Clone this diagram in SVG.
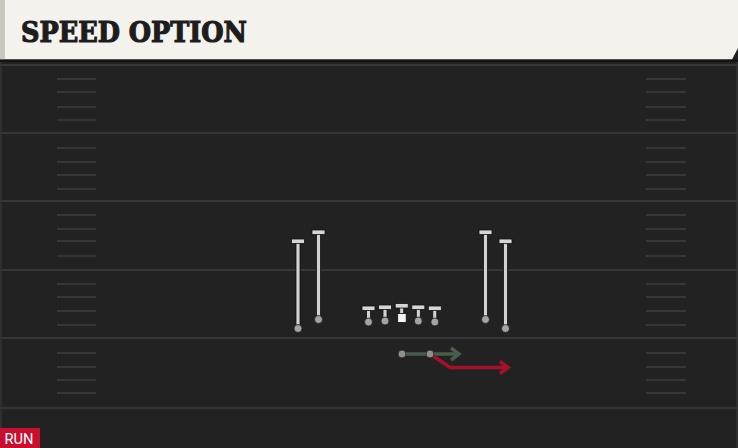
<svg xmlns="http://www.w3.org/2000/svg" width="738" height="448" viewBox="0 0 738 448">
<defs>
<style>
.yard{stroke:#363636;stroke-width:2}
.hash{stroke:#363636;stroke-width:2}
.bar{fill:#d6d6d6;stroke:#111;stroke-width:0.8}
.stem{fill:#d2d2d2;stroke:#111;stroke-width:0.8}
.dot{fill:#a4a4a4;stroke:#1a1a1a;stroke-width:0.8}
.route{fill:none;stroke-width:3.5;stroke-linejoin:miter}
</style>
</defs>
<rect x="0" y="0" width="738" height="448" fill="#222222"/>
<rect x="0" y="60" width="2" height="388" fill="#2f2f2f"/>
<rect x="736" y="60" width="2" height="388" fill="#2f2f2f"/>
<g id="field">
<line class="yard" x1="0" y1="65" x2="738" y2="65"/>
<line class="yard" x1="0" y1="133" x2="738" y2="133"/>
<line class="yard" x1="0" y1="201" x2="738" y2="201"/>
<line class="yard" x1="0" y1="270" x2="738" y2="270"/>
<line class="yard" x1="0" y1="338" x2="738" y2="338"/>
<line class="yard" x1="0" y1="408" x2="738" y2="408"/>
<g id="hashes-left">
<line class="hash" x1="57" y1="79" x2="96" y2="79"/>
<line class="hash" x1="57" y1="92" x2="96" y2="92"/>
<line class="hash" x1="57" y1="107" x2="96" y2="107"/>
<line class="hash" x1="57" y1="120" x2="96" y2="120"/>
<line class="hash" x1="57" y1="148" x2="96" y2="148"/>
<line class="hash" x1="57" y1="162" x2="96" y2="162"/>
<line class="hash" x1="57" y1="175" x2="96" y2="175"/>
<line class="hash" x1="57" y1="189" x2="96" y2="189"/>
<line class="hash" x1="57" y1="215" x2="96" y2="215"/>
<line class="hash" x1="57" y1="229" x2="96" y2="229"/>
<line class="hash" x1="57" y1="241" x2="96" y2="241"/>
<line class="hash" x1="57" y1="256" x2="96" y2="256"/>
<line class="hash" x1="57" y1="284" x2="96" y2="284"/>
<line class="hash" x1="57" y1="297" x2="96" y2="297"/>
<line class="hash" x1="57" y1="311" x2="96" y2="311"/>
<line class="hash" x1="57" y1="325" x2="96" y2="325"/>
<line class="hash" x1="57" y1="353" x2="96" y2="353"/>
<line class="hash" x1="57" y1="367" x2="96" y2="367"/>
<line class="hash" x1="57" y1="380" x2="96" y2="380"/>
<line class="hash" x1="57" y1="393" x2="96" y2="393"/>
</g>
<g id="hashes-right">
<line class="hash" x1="646" y1="79" x2="686" y2="79"/>
<line class="hash" x1="646" y1="92" x2="686" y2="92"/>
<line class="hash" x1="646" y1="107" x2="686" y2="107"/>
<line class="hash" x1="646" y1="120" x2="686" y2="120"/>
<line class="hash" x1="646" y1="148" x2="686" y2="148"/>
<line class="hash" x1="646" y1="162" x2="686" y2="162"/>
<line class="hash" x1="646" y1="175" x2="686" y2="175"/>
<line class="hash" x1="646" y1="189" x2="686" y2="189"/>
<line class="hash" x1="646" y1="215" x2="686" y2="215"/>
<line class="hash" x1="646" y1="229" x2="686" y2="229"/>
<line class="hash" x1="646" y1="241" x2="686" y2="241"/>
<line class="hash" x1="646" y1="256" x2="686" y2="256"/>
<line class="hash" x1="646" y1="284" x2="686" y2="284"/>
<line class="hash" x1="646" y1="297" x2="686" y2="297"/>
<line class="hash" x1="646" y1="311" x2="686" y2="311"/>
<line class="hash" x1="646" y1="325" x2="686" y2="325"/>
<line class="hash" x1="646" y1="353" x2="686" y2="353"/>
<line class="hash" x1="646" y1="367" x2="686" y2="367"/>
<line class="hash" x1="646" y1="380" x2="686" y2="380"/>
<line class="hash" x1="646" y1="393" x2="686" y2="393"/>
</g>
</g>
<g id="header">
<polygon points="0,0 738,0 738,48 732,59.5 0,59.5" fill="#f4f2ec"/>
<rect x="0" y="0" width="5" height="59.5" fill="#c9c7c0"/>
<rect x="0" y="59.5" width="738" height="2.5" fill="#151515"/>
<text x="21" y="42.3" font-family="'DejaVu Serif', serif" font-weight="bold" font-size="28.5" fill="#1d1d1d" stroke="#1d1d1d" stroke-width="1.2" textLength="226" lengthAdjust="spacingAndGlyphs">SPEED OPTION</text>
</g>
<g id="connectors">
<polyline class="route" stroke="#4a5d4a" points="402,354 459,354"/>
<polyline class="route" stroke="#4a5d4a" points="451,348 459,354 451,360"/>
<polyline class="route" stroke="#a5112b" points="430,354 450,367.5 508,367.5"/>
<polyline class="route" stroke="#a5112b" points="500,361.5 508,367.5 500,373.5"/>
</g>
<g id="wr1">
<rect class="stem" x="296" y="242" width="4" height="86"/>
<rect class="bar" x="291.5" y="239" width="13" height="4.5"/>
<circle class="dot" cx="298" cy="328.5" r="4"/>
</g>
<g id="wr2">
<rect class="stem" x="316.5" y="233" width="4" height="86"/>
<rect class="bar" x="312" y="230" width="13" height="4.5"/>
<circle class="dot" cx="318.5" cy="319.5" r="4"/>
</g>
<g id="wr3">
<rect class="stem" x="483.5" y="233" width="4" height="86"/>
<rect class="bar" x="479" y="230" width="13" height="4.5"/>
<circle class="dot" cx="485.5" cy="319.5" r="4"/>
</g>
<g id="wr4">
<rect class="stem" x="503.5" y="242" width="4" height="86"/>
<rect class="bar" x="499" y="239" width="13" height="4.5"/>
<circle class="dot" cx="505.5" cy="328.5" r="4"/>
</g>
<g id="lt">
<rect class="stem" x="366.5" y="309" width="4" height="12"/>
<rect class="bar" x="362" y="306" width="13" height="4.5"/>
<circle class="dot" cx="368.5" cy="322" r="4"/>
</g>
<g id="lg">
<rect class="stem" x="383" y="308" width="4" height="12"/>
<rect class="bar" x="378.5" y="305" width="13" height="4.5"/>
<circle class="dot" cx="385" cy="321" r="4"/>
</g>
<g id="c">
<rect class="stem" x="399.7" y="307" width="4" height="7"/>
<rect class="bar" x="395.2" y="303.5" width="13" height="4.5"/>
<rect x="397.7" y="313.5" width="8.5" height="9" fill="#f4f4f4" stroke="#111" stroke-width="0.8"/>
</g>
<g id="rg">
<rect class="stem" x="416.3" y="308" width="4" height="12"/>
<rect class="bar" x="411.8" y="305" width="13" height="4.5"/>
<circle class="dot" cx="418.3" cy="321" r="4"/>
</g>
<g id="rt">
<rect class="stem" x="432.8" y="309" width="4" height="12"/>
<rect class="bar" x="428.3" y="306" width="13" height="4.5"/>
<circle class="dot" cx="434.8" cy="322" r="4"/>
</g>
<g id="qb">
<circle cx="402" cy="354" r="4" fill="#8e8e8e" stroke="#1a1a1a" stroke-width="0.8"/>
</g>
<g id="rb">
<circle cx="430" cy="354" r="4" fill="#8e8e8e" stroke="#1a1a1a" stroke-width="0.8"/>
</g>
<g id="tag">
<rect x="0" y="428" width="40" height="20" fill="#c8102e"/>
<text x="4.5" y="444.3" font-family="Roboto, 'Liberation Sans', sans-serif" font-size="15.5" fill="#ffffff" textLength="29" lengthAdjust="spacingAndGlyphs">RUN</text>
</g>
</svg>
